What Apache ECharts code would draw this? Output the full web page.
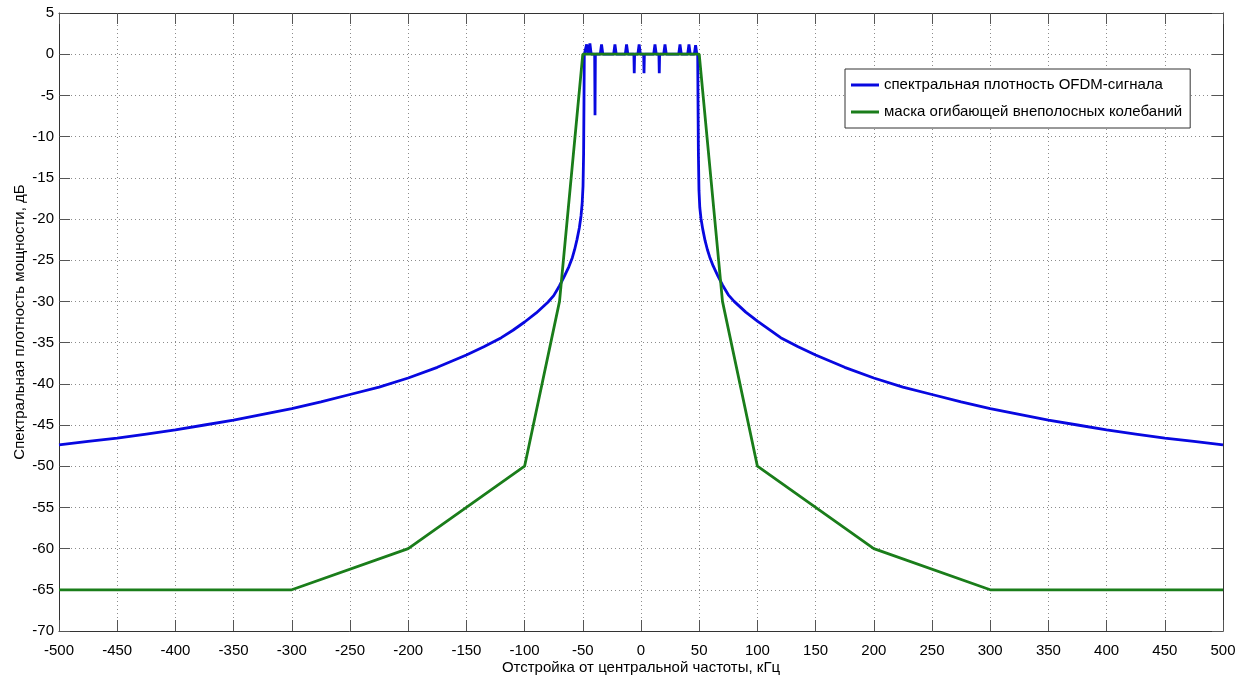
<!DOCTYPE html>
<html>
<head>
<meta charset="utf-8">
<script src="https://cdn.jsdelivr.net/npm/echarts@6/dist/echarts.min.js"></script>
<style>
  html, body { margin: 0; padding: 0; background: #fff; }
  #chart { width: 1239px; height: 683px; }
</style>
</head>
<body>
<div id="chart"></div>
<script>
// Spectral mask for out-of-band emissions (kHz, dB)
const maskFreq  = [-500, -300, -200, -100, -70, -50, 50, 70, 100, 200, 300, 500];
const maskLevel = [-65, -65, -60, -50, -30, 0, 0, -30, -50, -60, -65, -65];

// OFDM power spectral density: lower skirt
const skirtLowFreq  = [-500, -475, -450, -425, -400, -375, -350, -325, -300, -275, -250, -225, -200, -175, -150, -135,
  -120, -110, -100, -90, -80, -75, -70, -66, -62, -59, -57, -55, -53, -51.5, -50.5, -49.8, -49.3, -49.0, -48.7];
const skirtLowLevel = [-47.4, -47.0, -46.6, -46.1, -45.6, -45.0, -44.4, -43.7, -43.0, -42.2, -41.3, -40.4, -39.3, -38.0, -36.5, -35.5,
  -34.4, -33.5, -32.5, -31.4, -30.1, -29.3, -28.1, -27.0, -25.8, -24.7, -23.7, -22.5, -21.1, -19.6, -18.0, -16.0, -12.0, -6.0, 0];

// OFDM power spectral density: upper skirt
const skirtHighFreq  = [48.7, 49.0, 49.3, 49.8, 50.5, 51.5, 53, 55, 57, 59, 62, 66, 70, 75, 80, 90, 100, 110,
  120, 135, 150, 175, 200, 225, 250, 275, 300, 325, 350, 375, 400, 425, 450, 475, 500];
const skirtHighLevel = [0, -6.0, -12.0, -16.5, -18.6, -19.9, -21.2, -22.6, -23.7, -24.6, -25.7, -26.9, -28.0, -29.2, -30.0, -31.3, -32.4, -33.4,
  -34.4, -35.5, -36.5, -38.0, -39.3, -40.4, -41.3, -42.2, -43.0, -43.7, -44.4, -45.0, -45.6, -46.1, -46.6, -47.0, -47.4];

// OFDM power spectral density: occupied band with ripple and notches
const bandFreq = [-48.7, -47.8, -46.7, -45.6, -45.0, -43.9, -42.8, -39.8, -39.5, -39.2, -35.0, -33.9, -32.8,
  -23.5, -22.4, -21.3, -13.5, -12.4, -11.3, -6.1, -5.8, -5.5, -2.7, -1.6, -0.5, 2.3, 2.6, 2.9,
  10.9, 12.0, 13.1, 15.4, 15.7, 16.0, 19.5, 20.6, 21.7, 32.4, 33.5, 34.6, 40.1, 41.2, 42.3, 45.8, 46.9, 48.0, 48.7];
const bandLevel = [0, 0, 1.2, 0, 0, 1.3, 0, 0, -7.4, 0, 0, 1.2, 0,
  0, 1.2, 0, 0, 1.2, 0, 0, -2.3, 0, 0, 1.2, 0, 0, -2.3, 0,
  0, 1.2, 0, 0, -2.3, 0, 0, 1.2, 0, 0, 1.2, 0, 0, 1.2, 0, 0, 1.1, 0, 0];

const xTicks = { min: -500, max: 500, step: 50 };
const yTicks = { min: -70, max: 5, step: 5 };

const psdName  = 'спектральная плотность OFDM-сигнала';
const maskName = 'маска огибающей внеполосных колебаний';

const pairs = (xs, ys) => xs.map((x, i) => [x, ys[i]]);

const fontFamily = '"Liberation Sans", Arial, sans-serif';
const axisColor = '#333';
const gridLine = { show: true, lineStyle: { color: '#8c8c8c', width: 1, type: [1, 3] } };
const blue = '#0808e0';
const green = '#1a7d1a';
const lineWidth = 2.8;

const chart = echarts.init(document.getElementById('chart'), null, { renderer: 'canvas' });

const psdLine = { color: blue, width: lineWidth };

chart.setOption({
  animation: false,
  backgroundColor: '#fff',
  textStyle: { fontFamily },
  grid: { left: 59, right: 16, top: 13, bottom: 52, containLabel: false },
  legend: {
    data: [psdName, maskName],
    orient: 'vertical',
    left: 845,
    top: 69,
    padding: [7, 8, 7, 6],
    itemGap: 9,
    icon: 'rect',
    itemWidth: 28,
    itemHeight: 3,
    backgroundColor: '#fff',
    borderColor: '#333',
    borderWidth: 1,
    borderRadius: 0,
    textStyle: { fontSize: 15, color: '#000', fontFamily, lineHeight: 18 }
  },
  xAxis: [
    {
      type: 'value', position: 'bottom',
      min: xTicks.min, max: xTicks.max, interval: xTicks.step,
      name: 'Отстройка от центральной частоты, кГц',
      nameLocation: 'middle', nameGap: 29, nameMoveOverlap: false,
      nameTextStyle: { fontSize: 15, color: '#000', fontFamily },
      axisLine: { show: true, onZero: false, lineStyle: { color: axisColor, width: 1 } },
      axisTick: { show: true, inside: true, length: 11, lineStyle: { color: '#555' } },
      axisLabel: { fontSize: 15, color: '#000', margin: 12, fontFamily },
      splitLine: gridLine
    },
    {
      type: 'value', position: 'top',
      min: xTicks.min, max: xTicks.max, interval: xTicks.step,
      axisLine: { show: true, onZero: false, lineStyle: { color: axisColor, width: 1 } },
      axisTick: { show: true, inside: true, length: 11, lineStyle: { color: '#555' } },
      axisLabel: { show: false },
      splitLine: { show: false }
    }
  ],
  yAxis: [
    {
      type: 'value', position: 'left',
      min: yTicks.min, max: yTicks.max, interval: yTicks.step,
      name: 'Спектральная плотность мощности, дБ',
      nameLocation: 'middle', nameGap: 32, nameRotate: 90, nameMoveOverlap: false,
      nameTextStyle: { fontSize: 15, color: '#000', fontFamily },
      axisLine: { show: true, onZero: false, lineStyle: { color: axisColor, width: 1 } },
      axisTick: { show: true, inside: true, length: 11, lineStyle: { color: '#555' } },
      axisLabel: { fontSize: 15, color: '#000', margin: 5, fontFamily },
      splitLine: gridLine
    },
    {
      type: 'value', position: 'right',
      min: yTicks.min, max: yTicks.max, interval: yTicks.step,
      axisLine: { show: true, onZero: false, lineStyle: { color: axisColor, width: 1 } },
      axisTick: { show: true, inside: true, length: 11, lineStyle: { color: '#555' } },
      axisLabel: { show: false },
      splitLine: { show: false }
    }
  ],
  series: [
    {
      name: psdName, type: 'line', symbol: 'none',
      data: pairs(skirtLowFreq, skirtLowLevel),
      lineStyle: psdLine, itemStyle: { color: blue }, z: 2
    },
    {
      name: psdName, type: 'line', symbol: 'none',
      data: pairs(bandFreq, bandLevel),
      lineStyle: psdLine, itemStyle: { color: blue }, z: 2
    },
    {
      name: psdName, type: 'line', symbol: 'none',
      data: pairs(skirtHighFreq, skirtHighLevel),
      lineStyle: psdLine, itemStyle: { color: blue }, z: 2
    },
    {
      name: maskName, type: 'line', symbol: 'none',
      data: pairs(maskFreq, maskLevel),
      lineStyle: { color: green, width: lineWidth }, itemStyle: { color: green }, z: 3
    }
  ]
});
</script>
</body>
</html>
